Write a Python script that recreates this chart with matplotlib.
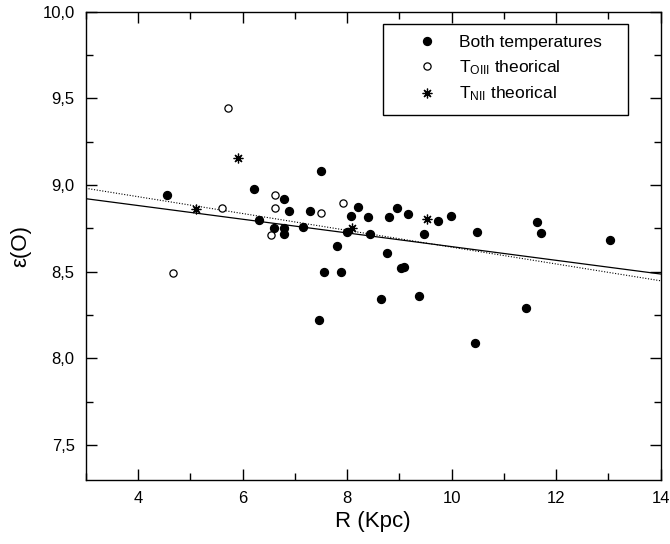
import numpy as np
import matplotlib
matplotlib.use('Agg')
import matplotlib.pyplot as plt
from matplotlib.ticker import MultipleLocator, FuncFormatter

plt.rcParams['font.family'] = ['Liberation Sans', 'DejaVu Sans']
plt.rcParams['mathtext.fontset'] = 'custom'
plt.rcParams['mathtext.rm'] = 'Liberation Sans'
plt.rcParams['mathtext.it'] = 'Liberation Sans:italic'

# both temperatures measured
both_R = [4.55, 6.21, 6.31, 6.61, 6.80, 6.80, 6.80, 6.88, 7.15, 7.29, 7.50, 7.47,
          7.56, 7.80, 7.89, 7.99, 8.08, 8.21, 8.40, 8.44, 8.65, 8.77, 8.81, 8.96,
          9.04, 9.09, 9.17, 9.38, 9.47, 9.74, 9.99, 10.44, 10.49, 11.42, 11.64,
          11.71, 13.04]
both_eps = [8.94, 8.98, 8.80, 8.75, 8.92, 8.75, 8.72, 8.85, 8.76, 8.85, 9.08, 8.22,
            8.50, 8.65, 8.50, 8.73, 8.82, 8.875, 8.815, 8.72, 8.34, 8.61, 8.815, 8.865,
            8.52, 8.53, 8.835, 8.36, 8.72, 8.795, 8.82, 8.09, 8.73, 8.29, 8.785,
            8.725, 8.685]

# T_OIII theorical
oiii_R = [4.66, 5.61, 5.73, 6.55, 6.63, 6.63, 7.50, 7.93]
oiii_eps = [8.49, 8.866, 9.446, 8.713, 8.942, 8.866, 8.838, 8.898]

# T_NII theorical
nii_R = [5.11, 5.92, 8.10, 9.53]
nii_eps = [8.863, 9.154, 8.754, 8.802]

# gradient fits (intercept, slope)
fit_solid = (9.04, -0.0395)
fit_dotted = (9.127, -0.0485)

fig = plt.figure(figsize=(6.7, 5.44), dpi=100)
ax = fig.add_axes([0.128, 0.118, 0.858, 0.8605])

xx = np.array([3, 14])
ax.plot(xx, fit_solid[0] + fit_solid[1] * xx, color='black', lw=0.9)
ax.plot(xx, fit_dotted[0] + fit_dotted[1] * xx, color='black', lw=0.8,
        ls=(0, (1, 1.5)))

ax.plot(both_R, both_eps, ls='none', marker='o', ms=5.7, mfc='black',
        mec='black', label='Both temperatures')
ax.plot(oiii_R, oiii_eps, ls='none', marker='o', ms=5.2, mfc='white',
        mec='black', mew=0.9, label=r'T$_{\rm OIII}$ theorical')
ax.plot(nii_R, nii_eps, ls='none', marker=(8, 2, 0), ms=7, color='black',
        mew=0.9, label=r'T$_{\rm NII}$ theorical')

ax.set_xlim(3, 14)
ax.set_ylim(7.3, 10.0)
ax.xaxis.set_major_locator(MultipleLocator(2))
ax.xaxis.set_minor_locator(MultipleLocator(1))
ax.yaxis.set_major_locator(MultipleLocator(0.5))
ax.yaxis.set_minor_locator(MultipleLocator(0.25))
ax.yaxis.set_major_formatter(FuncFormatter(lambda v, p: f'{v:.1f}'.replace('.', ',')))

ax.tick_params(which='both', direction='in', top=True, right=True,
               labelsize=12, width=1)
ax.tick_params(which='major', length=8)
ax.tick_params(which='minor', length=5)
ax.tick_params(axis='x', pad=8)
ax.tick_params(axis='y', pad=8)
for s in ax.spines.values():
    s.set_linewidth(1)

ax.set_xlabel('R (Kpc)', fontsize=16, labelpad=4)
ax.set_ylabel('ε(O)', fontsize=16, labelpad=8)

leg = ax.legend(loc='upper left', bbox_to_anchor=(0.5165, 0.774, 0.426, 0.2),
                mode='expand', borderaxespad=0, fontsize=12.5, handlelength=3.8,
                handletextpad=-0.05, borderpad=0.65, labelspacing=0.45,
                fancybox=False, edgecolor='black', framealpha=1)
leg.get_frame().set_linewidth(1)

fig.savefig('out.png', dpi=100)
